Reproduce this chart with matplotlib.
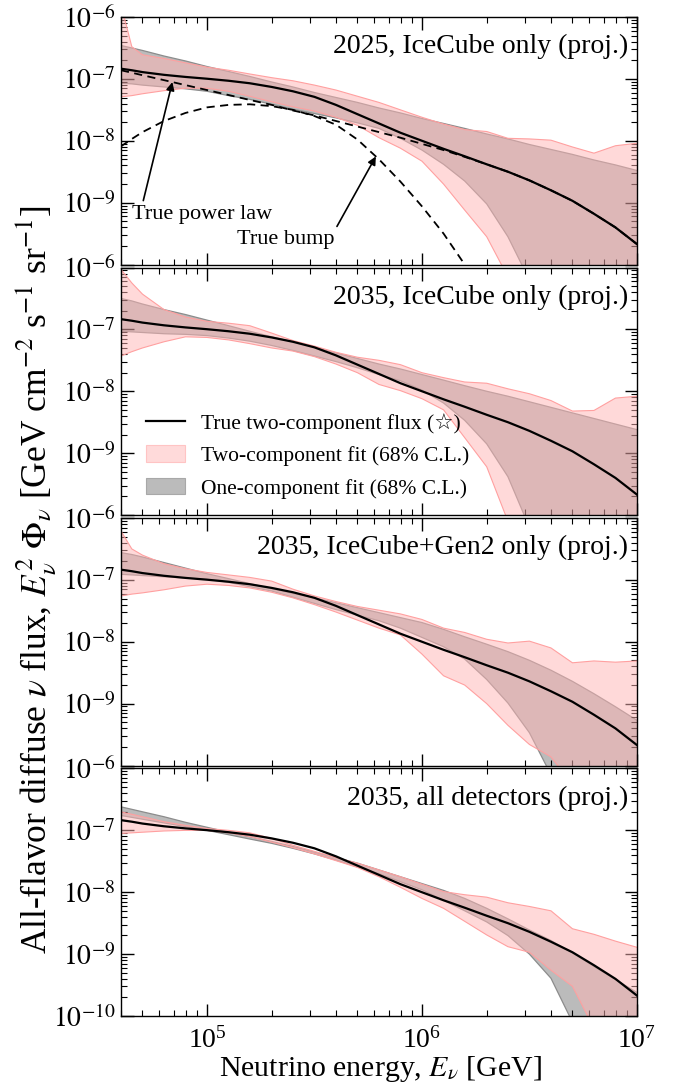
import matplotlib
matplotlib.use('Agg')
import matplotlib.pyplot as plt
import numpy as np
from matplotlib.lines import Line2D
from matplotlib.patches import Patch
from matplotlib.ticker import NullFormatter, LogLocator

plt.rcParams['font.family'] = ['Liberation Serif', 'DejaVu Sans']
plt.rcParams['mathtext.fontset'] = 'stix'

# neutrino energy grid [GeV]
energy = [3.98e4, 4.47e4, 5.01e4, 6.31e4, 7.94e4, 1.00e5, 1.26e5, 1.58e5, 2.00e5,
          2.51e5, 3.16e5, 3.98e5, 5.01e5, 6.31e5, 7.94e5, 1.00e6, 1.26e6, 1.58e6,
          2.00e6, 2.51e6, 3.16e6, 3.98e6, 5.01e6, 6.31e6, 7.94e6, 1.00e7]

# log10 of E^2 Phi [GeV cm^-2 s^-1 sr^-1]
log_true = [-6.835, -6.86, -6.89, -6.934, -6.968, -6.997, -7.03, -7.07, -7.13, -7.20,
            -7.29, -7.42, -7.57, -7.72, -7.87, -8.00, -8.13, -8.25, -8.38, -8.50,
            -8.64, -8.80, -8.97, -9.18, -9.40, -9.67]
log_power_law = [-6.86, -6.90, -6.94, -7.02, -7.10, -7.18, -7.26, -7.34, -7.42, -7.51,
                 -7.59, -7.68, -7.77, -7.86, -7.95, -8.05, -8.15, -8.26, -8.38, -8.50,
                 -8.64, -8.80, -8.97, -9.18, -9.40, -9.67]
log_bump = [-8.09, -7.97, -7.86, -7.68, -7.55, -7.46, -7.42, -7.41, -7.44, -7.50,
            -7.60, -7.74, -7.98, -8.30, -8.66, -9.06, -9.50, -10.0, -10.6]

# one-component fit band (68% C.L.)
one_hi_2025 = [-6.46, -6.50, -6.54, -6.63, -6.71, -6.80, -6.88, -6.96, -7.05, -7.13, -7.22, -7.30, -7.38,
               -7.47, -7.55, -7.64, -7.72, -7.80, -7.89, -7.97, -8.06, -8.14, -8.22, -8.31, -8.39, -8.48]
one_lo_2025 = [-7.07, -7.08, -7.10, -7.13, -7.16, -7.20, -7.27, -7.33, -7.41, -7.49, -7.56, -7.63, -7.71,
               -7.80, -7.96, -8.15, -8.38, -8.65, -9.02, -9.55, -10.25, -11.0, -12.0, -13.0, -14.0, -15.0]
one_hi_2035 = [-6.50, -6.54, -6.59, -6.68, -6.76, -6.85, -6.94, -7.03, -7.12, -7.20, -7.29, -7.38, -7.47,
               -7.56, -7.64, -7.73, -7.82, -7.91, -8.00, -8.08, -8.17, -8.26, -8.35, -8.44, -8.53, -8.62]
one_lo_2035 = [-7.03, -7.04, -7.05, -7.07, -7.08, -7.10, -7.14, -7.19, -7.26, -7.34, -7.43, -7.52, -7.62,
               -7.73, -7.83, -7.98, -8.19, -8.47, -8.85, -9.38, -10.2, -11.0, -12.0, -13.0, -14.0, -15.0]
one_hi_gen2 = [-6.56, -6.59, -6.63, -6.72, -6.81, -6.90, -6.98, -7.06, -7.14, -7.22, -7.29, -7.37, -7.45,
               -7.53, -7.61, -7.69, -7.80, -7.92, -8.04, -8.16, -8.30, -8.46, -8.64, -8.84, -9.05, -9.27]
one_lo_gen2 = [-6.91, -6.92, -6.93, -6.95, -6.97, -6.99, -7.04, -7.11, -7.18, -7.28, -7.38, -7.48, -7.57,
               -7.66, -7.78, -7.93, -8.08, -8.28, -8.61, -8.99, -9.47, -10.15, -11.0, -12.0, -13.0, -14.0]
one_hi_all = [-6.62, -6.66, -6.70, -6.78, -6.87, -6.95, -7.03, -7.10, -7.18, -7.26, -7.35, -7.44, -7.53,
              -7.64, -7.75, -7.86, -7.97, -8.10, -8.26, -8.43, -8.61, -8.78, -8.98, -9.20, -9.41, -9.62]
one_lo_all = [-6.76, -6.79, -6.82, -6.88, -6.94, -7.00, -7.07, -7.14, -7.21, -7.29, -7.38, -7.48, -7.59,
              -7.70, -7.83, -7.96, -8.13, -8.30, -8.48, -8.70, -9.00, -9.39, -10.1, -11.0, -12.0, -13.0]

# two-component fit band (68% C.L.)
two_hi_2025 = [-5.80, -6.48, -6.61, -6.67, -6.74, -6.81, -6.86, -6.92, -6.98, -7.03, -7.10, -7.18, -7.28,
               -7.38, -7.50, -7.62, -7.73, -7.82, -7.85, -7.96, -7.97, -7.99, -8.10, -8.20, -8.08, -8.04]
two_lo_2025 = [-7.29, -7.27, -7.24, -7.19, -7.15, -7.15, -7.20, -7.28, -7.37, -7.45, -7.52, -7.62, -7.75,
               -7.95, -8.12, -8.33, -8.70, -9.12, -9.55, -10.2, -11.0, -12.0, -13.0, -14.0, -15.0, -16.0]
two_hi_2035 = [-6.03, -6.25, -6.43, -6.68, -6.80, -6.87, -6.90, -6.94, -7.06, -7.18, -7.27, -7.37, -7.45,
               -7.50, -7.57, -7.70, -7.78, -7.85, -7.87, -7.96, -8.04, -8.15, -8.32, -8.31, -8.11, -8.08]
two_lo_2035 = [-7.43, -7.36, -7.30, -7.20, -7.12, -7.13, -7.17, -7.23, -7.30, -7.35, -7.44, -7.56, -7.70,
               -7.89, -7.99, -8.12, -8.30, -8.75, -9.22, -10.1, -11.0, -12.0, -13.0, -14.0, -15.0, -16.0]
two_hi_gen2 = [-6.21, -6.50, -6.60, -6.74, -6.82, -6.88, -6.92, -6.96, -7.02, -7.15, -7.26, -7.35, -7.43,
               -7.49, -7.55, -7.64, -7.78, -7.85, -7.96, -8.02, -7.99, -8.10, -8.34, -8.31, -8.33, -8.31]
two_lo_gen2 = [-7.26, -7.23, -7.21, -7.16, -7.10, -7.07, -7.09, -7.13, -7.20, -7.29, -7.40, -7.52, -7.65,
               -7.78, -7.89, -8.20, -8.55, -8.70, -9.00, -9.35, -9.66, -9.86, -10.3, -11.0, -12.0, -13.0]
two_hi_all = [-6.70, -6.74, -6.78, -6.86, -6.92, -6.97, -7.00, -7.04, -7.13, -7.24, -7.34, -7.44, -7.53,
              -7.64, -7.75, -7.87, -7.99, -8.04, -8.08, -8.17, -8.23, -8.30, -8.59, -8.68, -8.79, -8.89]
two_lo_all = [-7.05, -7.04, -7.03, -7.01, -7.00, -7.00, -7.04, -7.10, -7.19, -7.28, -7.38, -7.49, -7.60,
              -7.75, -7.92, -8.10, -8.26, -8.47, -8.69, -8.88, -8.97, -9.26, -9.52, -10.2, -11.0, -12.0]

panel_titles = ['2025, IceCube only (proj.)', '2035, IceCube only (proj.)',
                '2035, IceCube+Gen2 only (proj.)', '2035, all detectors (proj.)']
ytick_vals = [1e-10, 1e-9, 1e-8, 1e-7, 1e-6]
ytick_text = [r'$10^{-10}$', r'$10^{-9}$', r'$10^{-8}$', r'$10^{-7}$', r'$10^{-6}$']

PINK = '#ffb5b5'
PINK_EDGE = '#ffa0a0'
GRAY = '#bbbbbb'
GRAY_EDGE = '#8c8c8c'

bands = [
    (one_lo_2025, one_hi_2025, two_lo_2025, two_hi_2025),
    (one_lo_2035, one_hi_2035, two_lo_2035, two_hi_2035),
    (one_lo_gen2, one_hi_gen2, two_lo_gen2, two_hi_gen2),
    (one_lo_all, one_hi_all, two_lo_all, two_hi_all),
]

E = np.array(energy)
flux = lambda v: 10.0 ** np.array(v)

fig, axes = plt.subplots(4, 1, figsize=(6.89, 10.92), dpi=100, sharex=True)
plt.subplots_adjust(left=0.1756, right=0.9245, top=0.9844, bottom=0.0696, hspace=0.012)

for i, ax in enumerate(axes):
    one_lo, one_hi, two_lo, two_hi = bands[i]

    # one-component band underneath, two-component band translucent on top
    ax.fill_between(E, flux(one_lo), flux(one_hi), facecolor=GRAY, edgecolor='none', zorder=1)
    ax.plot(E, flux(one_lo), color=GRAY_EDGE, lw=0.9, zorder=1.5)
    ax.plot(E, flux(one_hi), color=GRAY_EDGE, lw=0.9, zorder=1.5)
    ax.fill_between(E, flux(two_lo), flux(two_hi), facecolor=PINK, alpha=0.5,
                    edgecolor='none', zorder=2)
    ax.plot(E, flux(two_lo), color=PINK_EDGE, lw=0.8, zorder=2.5)
    ax.plot(E, flux(two_hi), color=PINK_EDGE, lw=0.8, zorder=2.5)

    ax.plot(E, flux(log_true), color='k', lw=1.6, zorder=5)

    ax.set_xscale('log')
    ax.set_yscale('log')
    ax.set_xlim(E[0], E[-1])
    ax.set_ylim(1e-10, 1e-6)

    labels = list(ytick_text)
    if i < 3:
        labels[0] = ''
    ax.set_yticks(ytick_vals)
    ax.set_yticklabels(labels)
    ax.yaxis.set_minor_locator(LogLocator(base=10, subs=np.arange(2, 10), numticks=50))
    ax.xaxis.set_minor_locator(LogLocator(base=10, subs=np.arange(2, 10), numticks=50))
    ax.yaxis.set_minor_formatter(NullFormatter())
    ax.xaxis.set_minor_formatter(NullFormatter())

    ax.tick_params(which='both', direction='in', top=True, right=True, labelsize=20)
    ax.tick_params(which='major', length=9, width=1.0)
    ax.tick_params(which='minor', length=4.5, width=0.8)
    ax.tick_params(axis='x', pad=8)
    ax.tick_params(axis='y', pad=4)
    for s in ax.spines.values():
        s.set_linewidth(1.0)

    ax.text(0.983, 0.88, panel_titles[i], transform=ax.transAxes,
            ha='right', va='center', fontsize=20, zorder=6)

# true components in the first panel
ax0 = axes[0]
ax0.plot(E, flux(log_power_law), color='k', lw=1.3, ls=(0, (4.5, 3)), zorder=4)
ax0.plot(E[:len(log_bump)], flux(log_bump), color='k', lw=1.3, ls=(0, (4.5, 3)), zorder=4)

logE = np.log10(E)
pl_tip = 6.9e4
bump_tip = 6.1e5
arrow = dict(arrowstyle='-|>', color='k', lw=1.2, mutation_scale=12, shrinkA=1, shrinkB=0)
ax0.annotate('True power law',
             xy=(pl_tip, 10 ** np.interp(np.log10(pl_tip), logE, log_power_law)),
             xytext=(4.5e4, 6.5e-10), ha='left', va='center', fontsize=16,
             arrowprops=dict(arrow, relpos=(0.07, 1.0)), zorder=6)
ax0.annotate('True bump',
             xy=(bump_tip, 10 ** np.interp(np.log10(bump_tip), logE[:len(log_bump)], log_bump)),
             xytext=(2.33e5, 2.5e-10), ha='center', va='center', fontsize=16,
             arrowprops=dict(arrow, relpos=(1.0, 1.0)), zorder=6)

# legend in the second panel
handles = [
    Line2D([], [], color='k', lw=1.6),
    Patch(facecolor='#ffdada', edgecolor='#ffc4c4', lw=0.8),
    Patch(facecolor=GRAY, edgecolor='#a8a8a8', lw=0.8),
]
axes[1].legend(handles,
               ['True two-component flux (\u2606)', 'Two-component fit (68% C.L.)',
                'One-component fit (68% C.L.)'],
               loc='lower left', bbox_to_anchor=(0.01, -0.012), frameon=False, fontsize=15.5,
               handlelength=1.85, handleheight=0.8, handletextpad=0.75, labelspacing=0.55)

fig.text(0.053, 0.469,
         r'All-flavor diffuse $\nu$ flux, $E_\nu^2\ \Phi_\nu$ [GeV cm$^{-2}$ s$^{-1}$ sr$^{-1}$]',
         rotation=90, ha='center', va='center', fontsize=25.5)
fig.text(0.5517, 0.021, r'Neutrino energy, $E_\nu$ [GeV]', ha='center', va='center', fontsize=21.5)

fig.savefig('out.png', dpi=100)
